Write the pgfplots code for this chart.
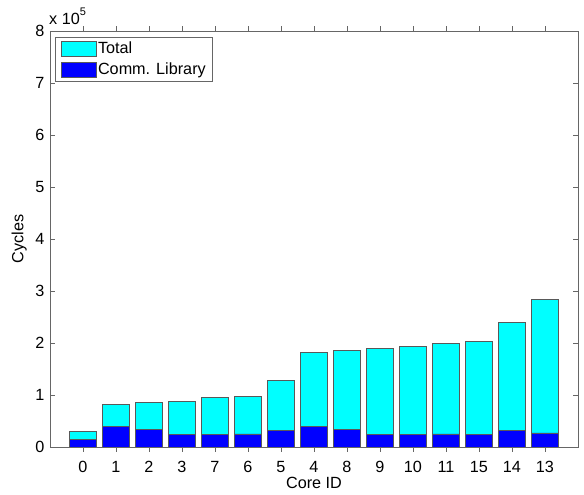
\documentclass[border=0pt]{standalone}
\usepackage{pgfplots}
\pgfplotsset{compat=1.18}
\usepackage{fontspec}
\setmainfont{Liberation Sans}
\definecolor{mcyan}{rgb}{0,1,1}
\definecolor{mblue}{rgb}{0,0,1}
\begin{document}
\fontsize{16.2}{19}\selectfont
\begin{tikzpicture}
\path[use as bounding box] (-50pt,-48pt) rectangle (534pt,447pt);
\begin{axis}[
  at={(0pt,0pt)}, anchor=south west,
  width=528pt, height=416pt, scale only axis,
  xmin=-1, xmax=15, ymin=0, ymax=8,
  xtick={0,...,14},
  xticklabels={0,1,2,3,7,6,5,4,8,9,10,11,15,14,13},
  ytick={0,1,...,8},
  tick align=inside,
  major tick length=5pt,
  axis line style={black!60, line width=0.7pt},
  tick style={black!60, line width=0.7pt},
  /pgf/number format/assume math mode=true,
  xticklabel style={yshift=-4pt},
  xlabel={Core ID},
  ylabel={Cycles},
  xlabel style={at={(axis description cs:0.5,-0.0721)}, anchor=north, inner sep=0pt},
  ylabel style={at={(axis description cs:-0.0436,0.5)}, anchor=south, inner sep=0pt},
  ybar, bar width=0.8, bar shift=0pt,
  legend style={at={(rel axis cs:0,1)}, anchor=north west, xshift=5pt, yshift=-6pt,
    draw=black!60, line width=0.7pt, inner xsep=5.5pt, inner ysep=1.5pt,
    nodes={inner xsep=1.5pt, inner ysep=3.25pt}, row sep=0pt},
  legend cell align=left,
  legend image code/.code={\draw[#1,/tikz/.cd,line width=0.7pt] (0pt,-7.5pt) rectangle (35pt,7.5pt);},
]
\addplot[fill=mcyan, draw=black!65, line width=0.8pt] coordinates {
 (0,0.30) (1,0.82) (2,0.86) (3,0.88) (4,0.95) (5,0.975) (6,1.28) (7,1.81)
 (8,1.86) (9,1.89) (10,1.94) (11,1.99) (12,2.03) (13,2.40) (14,2.83)};
\addplot[fill=mblue, draw=black!65, line width=0.8pt] coordinates {
 (0,0.14) (1,0.40) (2,0.34) (3,0.24) (4,0.24) (5,0.25) (6,0.31) (7,0.40)
 (8,0.34) (9,0.24) (10,0.24) (11,0.25) (12,0.24) (13,0.31) (14,0.27)};
\legend{Total, Comm. Library}
\end{axis}
\node[anchor=base west, inner sep=0pt] at (-1pt,422pt) {x 10\raisebox{9pt}{\fontsize{11}{11}\selectfont 5}};
\end{tikzpicture}
\end{document}
